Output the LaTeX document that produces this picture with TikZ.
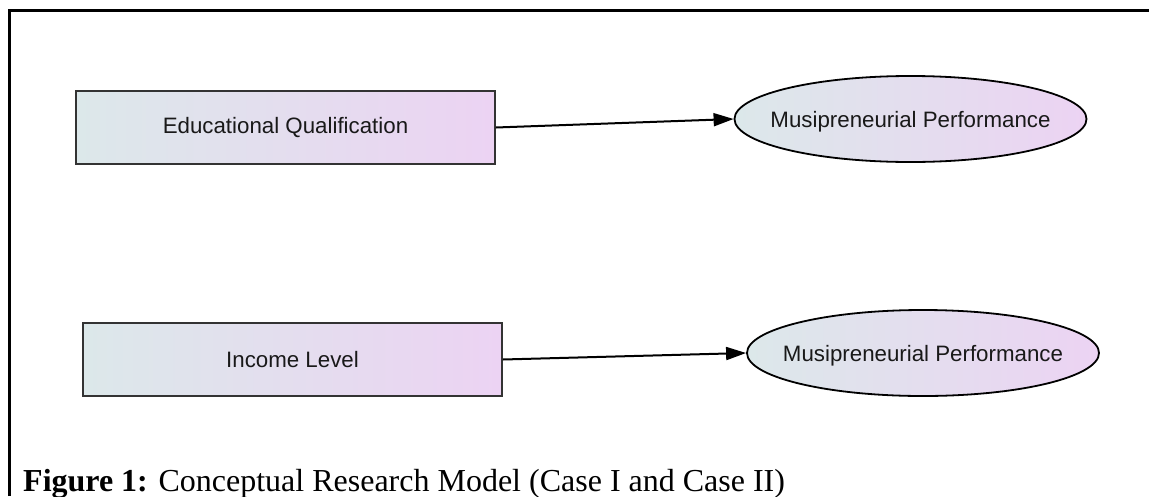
\documentclass[tikz,border=0pt]{standalone}
\usepackage{fontspec}
\setmainfont{Liberation Serif}
\newfontfamily\arialfont{Liberation Sans}
\usetikzlibrary{arrows.meta,shapes.geometric}
\definecolor{gleft}{HTML}{DCE8EA}
\definecolor{gright}{HTML}{ECD3F3}
\definecolor{boxline}{HTML}{333333}
\tikzset{
  nodetext/.style={font=\arialfont\fontsize{22.3}{26}\selectfont, text=black!90},
  varbox/.style={rectangle, draw=boxline, line width=1.8pt, left color=gleft, right color=gright,
    minimum width=419pt, minimum height=73pt, inner sep=0pt, nodetext},
  outcome/.style={ellipse, draw=black, line width=1.8pt, left color=gleft, right color=gright,
    minimum width=352pt, minimum height=86pt, inner sep=0pt,
    label={[nodetext, yshift=-2.5pt]center:#1}},
  link/.style={draw=black, line width=2pt, -{Triangle[length=20pt,width=13pt]}},
  framel/.style={draw=black, line width=2.8pt}
}
\begin{document}
\begin{tikzpicture}[x=1pt,y=-1pt]
\useasboundingbox (0,0) rectangle (1149,496);
\draw[framel] (9.5,496) -- (9.5,10.3) -- (1149,10.3);
\node[varbox] (eq) at (285.5,127.5) {Educational Qualification};
\node[outcome={Musipreneurial Performance}] (mp1) at (910.5,119) {};
\node[varbox] (il) at (292.5,359.5) {Income Level};
\node[outcome={Musipreneurial Performance}] (mp2) at (923,353) {};
\draw[link] (eq.east) -- (mp1.west);
\draw[link] (il.east) -- (mp2.west);
\node[anchor=base west, inner sep=0pt, font=\fontsize{32}{36}\selectfont] (cap) at (23,491)
  {\textbf{Figure 1:} Conceptual Research Model (Case I and Case II)};
\end{tikzpicture}
\end{document}
